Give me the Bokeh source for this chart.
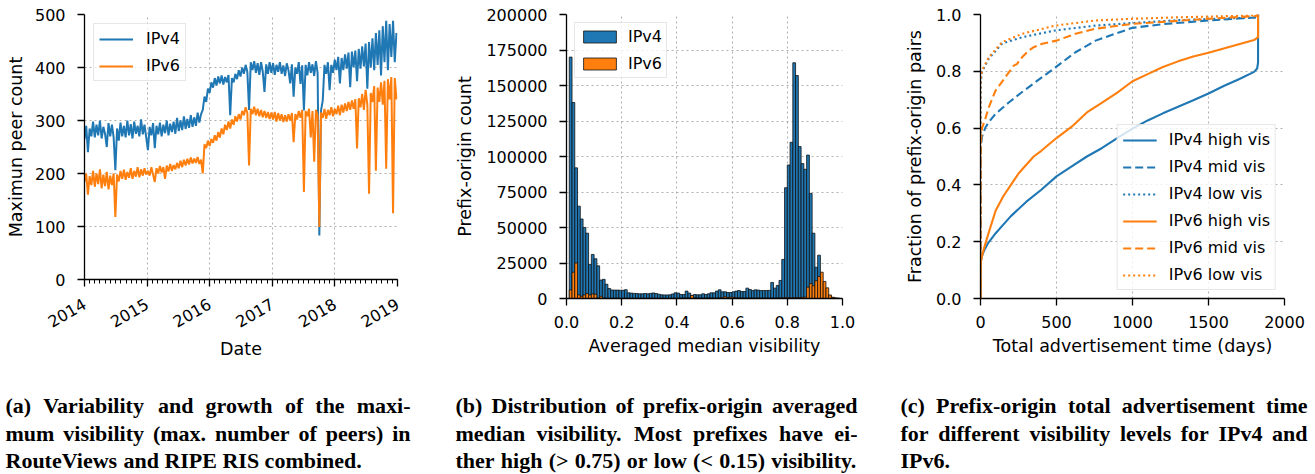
import math
from datetime import datetime
import pandas as pd
from bokeh.plotting import figure
from bokeh.models import (Range1d, FixedTicker, PrintfTickFormatter, NumeralTickFormatter,
                          DatetimeTickFormatter, Legend, LegendItem, ColumnDataSource)
from bokeh.layouts import row, column
from bokeh.embed import file_html
from bokeh.resources import INLINE
from bokeh.core.properties import value

BLUE = "#1f77b4"
ORANGE = "#ff7f0e"
FONT = "DejaVu Sans"

# ---------------- (a) maximum peer count, sampled every 10 days from 2014-01-01
ipv4_peers = [
    # 2014
    265, 290, 240, 285, 270, 298, 268, 292, 272, 300,
    266, 288, 275, 250, 295, 270, 292, 268, 206, 285,
    262, 296, 270, 290, 268, 300, 272, 293, 266, 298,
    275, 290, 270, 302, 274, 292, 268,
    # 2015
    244, 288, 272, 295, 248, 290, 274, 296, 270, 292,
    276, 300, 272, 294, 278, 298, 275, 305, 280, 300,
    282, 308, 284, 303, 286, 310, 288, 306, 290, 315,
    296, 312, 320, 345, 335, 360, 352,
    # 2016
    372, 362, 380, 366, 383, 370, 385, 368, 382, 372,
    386, 310, 380, 372, 388, 378, 395, 383, 400, 388,
    405, 392, 320, 410, 395, 412, 390, 408, 386, 410,
    392, 354, 406, 388, 410, 390,
    # 2017
    408, 386, 405, 392, 410, 388, 404, 384, 408, 395,
    370, 406, 345, 400, 388, 410, 369, 404, 319, 405,
    385, 410, 390, 406, 384, 412, 390, 83, 319, 338,
    405, 388, 410, 357, 405, 390, 415,
    # 2018
    395, 420, 370, 418, 395, 425, 398, 428, 363, 430,
    400, 432, 374, 435, 398, 440, 402, 445, 360, 448,
    400, 455, 395, 465, 405, 470, 385, 478, 410, 488,
    395, 482, 420, 488, 410, 465,
]
ipv6_peers = [
    # 2014
    185, 200, 160, 195, 178, 205, 175, 200, 180, 208,
    172, 198, 176, 203, 170, 196, 178, 200, 118, 198,
    185, 205, 190, 207, 188, 203, 192, 210, 190, 205,
    194, 212, 193, 208, 196, 210, 198,
    # 2015
    205, 196, 212, 198, 184, 210, 200, 214, 202, 212,
    190, 215, 204, 218, 205, 216, 208, 220, 210, 224,
    212, 226, 215, 228, 217, 230, 219, 228, 220, 231,
    218, 226, 200, 255, 248, 262, 252,
    # 2016
    265, 258, 272, 262, 278, 268, 285, 274, 292, 282,
    298, 285, 302, 292, 308, 298, 312, 302, 318, 310,
    325, 314, 215, 322, 312, 326, 310, 322, 308, 320,
    306, 318, 305, 316, 303, 315,
    # 2017
    302, 316, 298, 314, 300, 312, 297, 310, 298, 312,
    300, 314, 259, 312, 302, 318, 305, 320, 165, 318,
    308, 322, 268, 318, 222, 320, 310, 99, 315, 305,
    322, 303, 320, 310, 325, 308, 322,
    # 2018
    312, 328, 310, 330, 315, 332, 318, 335, 320, 338,
    322, 340, 247, 342, 325, 350, 320, 358, 330, 162,
    352, 335, 365, 205, 362, 335, 372, 330, 375, 209,
    378, 340, 382, 125, 380, 340,
]
year_ticks = [2014, 2015, 2016, 2017, 2018, 2019]

# ---------------- (b) histogram of averaged median visibility (100 bins of 0.01)
ipv4_hist = [
    0, 170000, 138000, 92000, 65000, 56000, 50000, 46000, 24000, 31000,
    28000, 23000, 13000, 13500, 10000, 7000, 6000, 5900, 5900, 5800,
    5800, 6200, 4000, 3800, 3600, 3500, 3300, 3300, 3500, 3300,
    3600, 3900, 3500, 3000, 2600, 2500, 2500, 2600, 3200, 4000,
    3800, 2800, 2800, 5200, 3800, 2100, 2800, 2600, 2600, 3300,
    2800, 3300, 4000, 4000, 5200, 6100, 4700, 4700, 4200, 4200,
    4700, 5200, 5600, 4900, 4900, 7300, 6300, 5600, 6100, 5900,
    5600, 5600, 5600, 5700, 11300, 7300, 9200, 12700, 27500, 78000,
    94000, 110000, 166000, 157000, 107000, 95000, 91000, 101000, 74000, 46000,
    22000, 30500, 12000, 5000, 2500, 1500, 800, 400, 200, 0,
]
ipv6_hist = [
    0, 6000, 18500, 25000, 2500, 1500, 2500, 3500, 2500, 3200,
    3000, 500, 1500, 300, 200, 200, 100, 100, 100, 100,
    100, 100, 100, 100, 100, 100, 100, 100, 100, 100,
    100, 100, 100, 100, 100, 100, 100, 100, 100, 100,
    100, 200, 300, 300, 400, 2200, 600, 300, 200, 200,
    200, 300, 300, 300, 300, 400, 500, 1200, 500, 1000,
    800, 500, 400, 300, 300, 300, 300, 300, 300, 300,
    300, 300, 300, 300, 300, 300, 400, 400, 500, 500,
    500, 500, 600, 600, 700, 800, 1000, 8000, 10500, 9000,
    12500, 15500, 18500, 12000, 7500, 2500, 800, 200, 100, 0,
]
n_bins = 100

# ---------------- (c) CDFs of total advertisement time
v4_high_days = [0, 0, 2, 10, 25, 50, 100, 150, 200, 300, 400, 500, 600, 700, 800, 900, 1000,
                1100, 1200, 1300, 1400, 1500, 1600, 1700, 1800, 1820, 1826, 1826]
v4_high_frac = [0, 0.11, 0.13, 0.15, 0.17, 0.195, 0.23, 0.26, 0.29, 0.34, 0.383, 0.43, 0.465,
                0.50, 0.53, 0.565, 0.598, 0.627, 0.652, 0.675, 0.698, 0.722, 0.748, 0.772,
                0.798, 0.81, 0.83, 1.0]
v4_mid_days = [0, 0, 3, 10, 33, 60, 99, 186, 274, 362, 493, 625, 757, 900, 1000, 1200, 1500,
               1700, 1826, 1826]
v4_mid_frac = [0, 0.50, 0.54, 0.57, 0.603, 0.625, 0.65, 0.69, 0.727, 0.762, 0.814, 0.867,
               0.908, 0.935, 0.953, 0.966, 0.979, 0.986, 0.99, 1.0]
v4_low_days = [0, 0, 3, 11, 55, 143, 274, 493, 757, 1000, 1300, 1826, 1826]
v4_low_frac = [0, 0.72, 0.77, 0.80, 0.845, 0.898, 0.92, 0.944, 0.961, 0.97, 0.98, 0.99, 1.0]
v6_high_days = [0, 0, 3, 10, 25, 50, 100, 150, 200, 250, 300, 350, 400, 500, 600, 700, 800,
                900, 1000, 1100, 1200, 1300, 1400, 1500, 1600, 1700, 1800, 1826, 1826]
v6_high_frac = [0, 0.10, 0.13, 0.15, 0.18, 0.225, 0.31, 0.36, 0.40, 0.44, 0.47, 0.50, 0.52,
                0.565, 0.605, 0.655, 0.69, 0.725, 0.765, 0.79, 0.815, 0.835, 0.852, 0.865,
                0.88, 0.895, 0.91, 0.92, 1.0]
v6_mid_days = [0, 0, 3, 10, 33, 55, 99, 164, 219, 241, 263, 318, 350, 406, 500, 625, 757,
               1000, 1500, 1826, 1826]
v6_mid_frac = [0, 0.50, 0.55, 0.60, 0.635, 0.674, 0.732, 0.78, 0.82, 0.826, 0.844, 0.873,
               0.885, 0.897, 0.908, 0.932, 0.95, 0.967, 0.985, 0.995, 1.0]
v6_low_days = [0, 0, 3, 11, 55, 143, 274, 493, 757, 1000, 1300, 1826, 1826]
v6_low_frac = [0, 0.74, 0.78, 0.803, 0.85, 0.903, 0.932, 0.961, 0.979, 0.985, 0.99, 0.997, 1.0]

# ---------------- captions
captions = [
    ["(a) Variability and growth of the maxi-",
     "mum visibility (max. number of peers) in",
     "RouteViews and RIPE RIS combined."],
    ["(b) Distribution of prefix-origin averaged",
     "median visibility. Most prefixes have ei-",
     "ther high (> 0.75) or low (< 0.15) visibility."],
    ["(c) Prefix-origin total advertisement time",
     "for different visibility levels for IPv4 and",
     "IPv6."],
]
caption_justify = [[True, True, False], [True, True, True], [True, True, False]]


def style(p, xstand=10, ystand=12, ylab_stand=8, xlab_stand=5):
    p.outline_line_color = None
    for ax in p.axis:
        ax.axis_line_color = "black"
        ax.axis_line_width = 1.3
        ax.major_tick_line_color = "black"
        ax.major_tick_line_width = 1.3
        ax.major_tick_out = 7
        ax.major_tick_in = 0
        ax.minor_tick_out = 0
        ax.minor_tick_in = 0
        ax.major_label_text_font = FONT
        ax.major_label_text_font_size = "16px"
        ax.major_label_text_color = "black"
        ax.axis_label_text_font = FONT
        ax.axis_label_text_font_size = "17.5px"
        ax.axis_label_text_font_style = "normal"
        ax.axis_label_text_color = "black"
    p.xaxis.major_label_standoff = xstand
    p.yaxis.major_label_standoff = ystand
    p.yaxis.axis_label_standoff = ylab_stand
    p.xaxis.axis_label_standoff = xlab_stand
    p.grid.grid_line_color = "#b0b0b0"
    p.grid.grid_line_dash = "2 3"
    p.grid.grid_line_width = 1.1


def make_legend(items, location, glyph_width, glyph_height, standoff, padding=5):
    return Legend(items=items, location=location, margin=8, padding=padding, spacing=8,
                  glyph_width=glyph_width, glyph_height=glyph_height, label_height=16,
                  label_standoff=standoff, label_text_font=FONT, label_text_font_size="16px",
                  label_text_color="black", border_line_color="#d0d0d0", border_line_width=1,
                  background_fill_color="white", background_fill_alpha=0.8)


ROW_H = 380

# ================= panel (a)
dates = pd.date_range("2014-01-01", periods=len(ipv4_peers), freq="10D")
src_a = ColumnDataSource(dict(date=dates, v4=ipv4_peers, v6=ipv6_peers))
p1 = figure(width=440, height=ROW_H, x_axis_type="datetime", output_backend="svg",
            toolbar_location=None,
            x_range=Range1d(datetime(2014, 1, 1), datetime(2019, 1, 1)),
            y_range=Range1d(0, 500),
            min_border_left=84, min_border_right=43, min_border_top=14, min_border_bottom=101)
r_a4 = p1.line("date", "v4", source=src_a, line_color=BLUE, line_width=2.0)
r_a6 = p1.line("date", "v6", source=src_a, line_color=ORANGE, line_width=2.0)
major_ms = [pd.Timestamp(f"{y}-01-01").value // 10**6 for y in year_ticks]
minor_ms = [pd.Timestamp(f"{y}-{m:02d}-01").value // 10**6
            for y in year_ticks[:-1] for m in range(1, 13)] + [major_ms[-1]]
p1.xaxis.ticker = FixedTicker(ticks=major_ms, minor_ticks=minor_ms)
fmt = "%Y"
p1.xaxis.formatter = DatetimeTickFormatter(microseconds=fmt, milliseconds=fmt, seconds=fmt,
                                           minsec=fmt, minutes=fmt, hourmin=fmt, hours=fmt,
                                           days=fmt, months=fmt, years=fmt)
p1.yaxis.ticker = FixedTicker(ticks=[0, 100, 200, 300, 400, 500])
p1.xaxis.axis_label = "Date"
p1.yaxis.axis_label = "Maximun peer count"
style(p1, xstand=16, ystand=12, ylab_stand=6, xlab_stand=3)
p1.xaxis.minor_tick_out = 4
p1.xaxis.minor_tick_line_color = "black"
p1.xaxis.minor_tick_line_width = 1
p1.xaxis.major_label_orientation = math.pi / 6
leg_a = make_legend([LegendItem(label="IPv4", renderers=[r_a4]),
                     LegendItem(label="IPv6", renderers=[r_a6])],
                    "top_left", 34, 16, 13)
leg_a.margin = 9
p1.add_layout(leg_a)

# ================= panel (b)
left_edges = [i / n_bins for i in range(n_bins)]
right_edges = [(i + 1) / n_bins for i in range(n_bins)]
src_b = ColumnDataSource(dict(l=left_edges, r=right_edges, v4=ipv4_hist, v6=ipv6_hist))
p2 = figure(width=440, height=ROW_H, output_backend="svg", toolbar_location=None,
            x_range=Range1d(0, 1), y_range=Range1d(0, 200000),
            min_border_left=126, min_border_right=38, min_border_top=14, min_border_bottom=82)
q4 = p2.quad(left="l", right="r", bottom=0, top="v4", source=src_b, fill_color=BLUE,
             line_color="#111111", line_width=0.8)
q6 = p2.quad(left="l", right="r", bottom=0, top="v6", source=src_b, fill_color=ORANGE,
             line_color="#111111", line_width=0.8)
p2.xaxis.ticker = FixedTicker(ticks=[0, 0.2, 0.4, 0.6, 0.8, 1.0])
p2.xaxis.formatter = PrintfTickFormatter(format="%.1f")
p2.yaxis.ticker = FixedTicker(ticks=[0, 25000, 50000, 75000, 100000, 125000, 150000,
                                     175000, 200000])
p2.yaxis.formatter = NumeralTickFormatter(format="0")
p2.xaxis.axis_label = "Averaged median visibility"
p2.yaxis.axis_label = "Prefix-origin count"
style(p2)
p2.add_layout(make_legend([LegendItem(label="IPv4", renderers=[q4]),
                           LegendItem(label="IPv6", renderers=[q6])],
                          "top_left", 41, 15, 8, padding=4))

# ================= panel (c)
p3 = figure(width=435, height=ROW_H, output_backend="svg", toolbar_location=None,
            x_range=Range1d(0, 2000), y_range=Range1d(0, 1),
            min_border_left=100, min_border_right=31, min_border_top=14, min_border_bottom=82)
curves = [
    ("IPv4 high vis", v4_high_days, v4_high_frac, BLUE, "solid"),
    ("IPv4 mid vis", v4_mid_days, v4_mid_frac, BLUE, "8 4"),
    ("IPv4 low vis", v4_low_days, v4_low_frac, BLUE, "2 3"),
    ("IPv6 high vis", v6_high_days, v6_high_frac, ORANGE, "solid"),
    ("IPv6 mid vis", v6_mid_days, v6_mid_frac, ORANGE, "8 4"),
    ("IPv6 low vis", v6_low_days, v6_low_frac, ORANGE, "2 3"),
]
items_c = []
for name, xs, ys, col, dash in curves:
    r = p3.line(xs, ys, line_color=col, line_width=2.1, line_dash=dash)
    items_c.append(LegendItem(label=name, renderers=[r]))
p3.xaxis.ticker = FixedTicker(ticks=[0, 500, 1000, 1500, 2000])
p3.yaxis.ticker = FixedTicker(ticks=[0, 0.2, 0.4, 0.6, 0.8, 1.0])
p3.yaxis.formatter = PrintfTickFormatter(format="%.1f")
p3.xaxis.axis_label = "Total advertisement time (days)"
p3.yaxis.axis_label = "Fraction of prefix-origin pairs"
style(p3)
p3.add_layout(make_legend(items_c, "bottom_right", 34, 16, 12, padding=5))

for p in (p1, p2, p3):
    p.frame_align = False

# ================= captions
CW = {" ": 250, "(": 333, ")": 333, ",": 250, "-": 333, ".": 250, "<": 570, ">": 570,
      "A": 722, "B": 667, "C": 722, "D": 722, "E": 667, "F": 611, "I": 389, "M": 944,
      "P": 611, "R": 722, "S": 556, "V": 722,
      "a": 500, "b": 556, "c": 444, "d": 556, "e": 444, "f": 333, "g": 500, "h": 556,
      "i": 278, "l": 278, "m": 833, "n": 556, "o": 500, "p": 556, "r": 444, "s": 389,
      "t": 333, "u": 556, "v": 500, "w": 722, "x": 500, "y": 500}
CAP_SIZE = 22
CAP_W, CAP_H = 1315, 94
cap_cols = [(5, 410), (455, 857), (900, 1307)]
cap_rows = [25, 53, 80]


def word_w(w):
    return sum(CW.get(ch, 500) for ch in w) * CAP_SIZE / 1000.0


cx, cy, ct = [], [], []
for ci, lines in enumerate(captions):
    x0, x1 = cap_cols[ci]
    for li, line in enumerate(lines):
        words = line.split(" ")
        widths = [word_w(w) for w in words]
        if caption_justify[ci][li] and len(words) > 1:
            gap = (x1 - x0 - sum(widths)) / (len(words) - 1)
        else:
            gap = 0.25 * CAP_SIZE
        x = x0
        for w, wd in zip(words, widths):
            cx.append(x)
            cy.append(cap_rows[li])
            ct.append(w)
            x += wd + gap

cap = figure(width=CAP_W, height=CAP_H, output_backend="svg", toolbar_location=None,
             x_range=Range1d(0, CAP_W), y_range=Range1d(CAP_H, 0),
             x_axis_location=None, y_axis_location=None, min_border=0)
cap.outline_line_color = None
cap.grid.visible = False
cap.text(x=cx, y=cy, text=ct, text_font=value("Liberation Serif"), text_font_style="bold",
         text_font_size="22px", text_baseline="middle", text_align="left", text_color="black")

layout = column(row(p1, p2, p3), cap)
open("out.html", "w").write(file_html(layout, INLINE))
